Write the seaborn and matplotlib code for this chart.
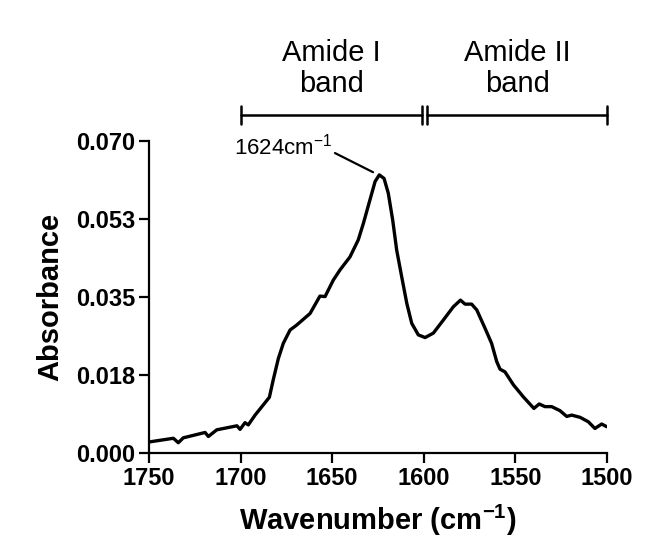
import numpy as np
import pandas as pd
import matplotlib
matplotlib.use("Agg")
import matplotlib.pyplot as plt
import seaborn as sns

# --- Spectrum (wavenumber in cm-1, absorbance) ---
wavenumber = [1749.5, 1736.7, 1734.0, 1731.3, 1719.4, 1717.6, 1713.0, 1702.0,
              1700.3, 1697.6, 1695.8, 1692.1, 1687.6, 1684.3, 1682.2, 1679.4,
              1676.7, 1673.0, 1669.4, 1662.1, 1656.7, 1653.9, 1649.4, 1645.7,
              1640.3, 1635.8, 1633.0, 1629.4, 1626.6, 1624.3, 1621.7, 1619.4,
              1617.0, 1614.8, 1612.1, 1609.3, 1606.6, 1603.0, 1599.3, 1594.8,
              1589.4, 1583.9, 1580.0, 1577.5, 1573.9, 1571.1, 1566.6, 1563.0,
              1560.2, 1558.4, 1555.7, 1551.1, 1545.7, 1539.9, 1537.0, 1533.9,
              1530.2, 1525.7, 1522.0, 1519.3, 1514.7, 1510.2, 1506.6, 1502.9,
              1500.2]
absorbance = [0.0025, 0.0033, 0.0023, 0.0034, 0.0046, 0.0037, 0.0052, 0.0061,
              0.0053, 0.0068, 0.0063, 0.0085, 0.0108, 0.0125, 0.0164, 0.0212,
              0.0246, 0.0276, 0.0287, 0.0313, 0.0352, 0.0351, 0.0388, 0.0411,
              0.0440, 0.0478, 0.0515, 0.0568, 0.0609, 0.0624, 0.0616, 0.0583,
              0.0523, 0.0455, 0.0396, 0.0336, 0.0291, 0.0265, 0.0259, 0.0269,
              0.0298, 0.0328, 0.0343, 0.0334, 0.0334, 0.0321, 0.0280, 0.0246,
              0.0205, 0.0188, 0.0182, 0.0153, 0.0126, 0.0100, 0.0110, 0.0104,
              0.0104, 0.0095, 0.0082, 0.0085, 0.0080, 0.0070, 0.0055, 0.0065,
              0.0059]

y_ticks = [0.0, 0.0175, 0.035, 0.0525, 0.07]
y_tick_labels = ['0.000', '0.018', '0.035', '0.053', '0.070']
x_ticks = [1750, 1700, 1650, 1600, 1550, 1500]

band_names = ['Amide I\nband', 'Amide II\nband']
band_ranges = [(1700, 1601), (1598, 1500)]
peak_label = '1624cm$^{-1}$'

# --- Style ---
sns.set_style('ticks')
plt.rcParams['font.family'] = ['Liberation Sans', 'DejaVu Sans']
plt.rcParams['mathtext.default'] = 'regular'
plt.rcParams['text.color'] = 'black'
plt.rcParams['axes.labelcolor'] = 'black'
plt.rcParams['xtick.color'] = 'black'
plt.rcParams['ytick.color'] = 'black'

fig = plt.figure(figsize=(6.7, 5.5), dpi=100)
ax = fig.add_axes([0.2224, 0.1764, 0.6836, 0.5672])

df = pd.DataFrame({'Wavenumber': wavenumber, 'Absorbance': absorbance})
sns.lineplot(data=df, x='Wavenumber', y='Absorbance', color='black',
             linewidth=2.4, sort=False, ax=ax)
ax.lines[0].set_solid_joinstyle('round')

ax.set_xlim(1750, 1500)
ax.set_ylim(0, 0.07)
ax.set_xticks(x_ticks)
ax.set_xticklabels([str(t) for t in x_ticks])
ax.set_yticks(y_ticks)
ax.set_yticklabels(y_tick_labels)
ax.tick_params(axis='both', direction='out', length=7, width=1.6,
               labelsize=17, colors='black', pad=3)
for lab in ax.get_xticklabels() + ax.get_yticklabels():
    lab.set_fontweight('bold')

sns.despine(ax=ax)
for side in ['left', 'bottom']:
    ax.spines[side].set_linewidth(1.6)
    ax.spines[side].set_color('black')

ax.set_xlabel('Wavenumber (cm$^{-1}$)', fontsize=21, fontweight='bold', labelpad=9)
ax.set_ylabel('Absorbance', fontsize=21, fontweight='bold', labelpad=8)

# --- Band brackets above the plot ---
bar_y = 0.0758
cap = 0.002
for name, (x0, x1) in zip(band_names, band_ranges):
    ax.plot([x0, x1], [bar_y, bar_y], color='black', lw=1.8, clip_on=False)
    for xc in (x0, x1):
        ax.plot([xc, xc], [bar_y - cap, bar_y + cap], color='black', lw=1.8,
                clip_on=False)
    ax.text((x0 + x1) / 2, 0.0863, name, ha='center', va='center',
            fontsize=21, multialignment='center', linespacing=1.15)

# --- Peak annotation ---
ax.text(1677, 0.0688, peak_label, ha='center', va='center', fontsize=16)
ax.plot([1648.5, 1627.7], [0.0673, 0.0630], color='black', lw=1.6, clip_on=False)

fig.savefig('out.png', dpi=100)
